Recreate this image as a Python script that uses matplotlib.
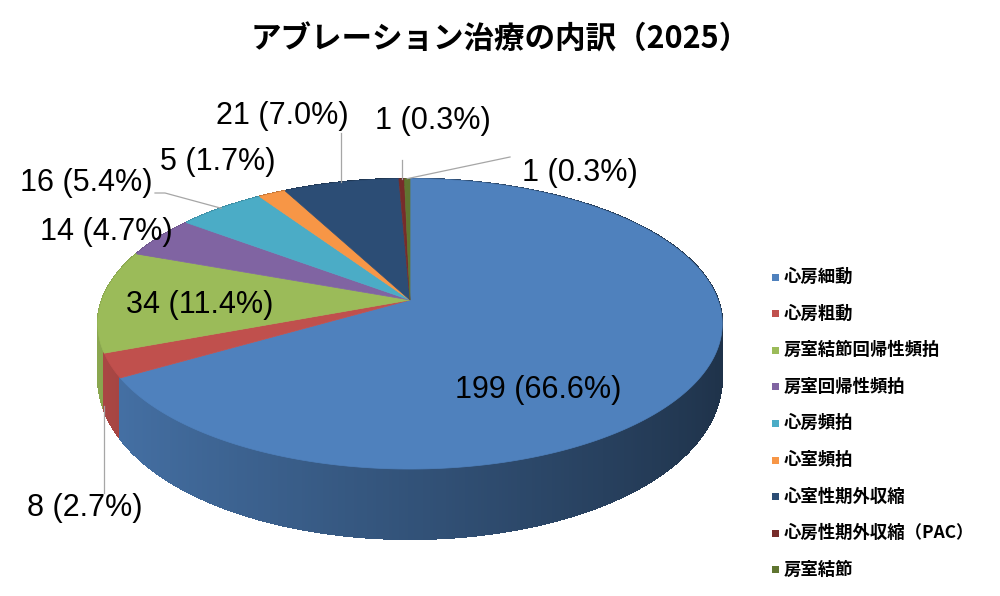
import numpy as np
import matplotlib.pyplot as plt
import matplotlib.colors as mcolors
from matplotlib.patches import Polygon, Rectangle
from matplotlib.collections import PolyCollection

# data
categories = ['心房細動', '心房粗動', '房室結節回帰性頻拍', '房室回帰性頻拍', '心房頻拍',
              '心室頻拍', '心室性期外収縮', '心房性期外収縮（PAC）', '房室結節']
counts = [199, 8, 34, 14, 16, 5, 21, 1, 1]
colors = ['#4F81BD', '#C0504D', '#9BBB59', '#8064A2', '#4BACC6',
          '#F79646', '#2C4D75', '#772C2A', '#5F7530']
title = 'アブレーション治療の内訳（2025）'

# layout (pixel coords, y down)
CX, CY = 410, 300
RX = 308
TILT = np.radians(27.3)
DIST = 5.41
SIDE_A, SIDE_B = 38, 32

label_pos = [(538, 390), (85, 508), (200, 305), (106, 232), (86, 183),
             (218, 162), (282, 116), (433, 121), (580, 173)]
# leader lines: wedge index -> (points on label side, fraction along wedge, use bottom edge)
# x of None means straight down/up from the pie point
leaders = {
    1: ([(None, 493)], 1.0, True),
    4: ([(155, 193), (165, 193)], 0.5, False),
    6: ([(None, 133)], 0.5, False),
    7: ([(None, 160)], 0.5, False),
    8: ([(510, 157)], 0.5, False),
}


def project(theta):
    X = np.cos(theta)
    Z = -np.sin(theta)
    depth = DIST - Z * np.cos(TILT)
    px = CX + RX * DIST * X / depth
    py = CY + RX * DIST * Z * np.sin(TILT) / depth
    return px, py, X, Z


def side_drop(Z):
    # thickness of the side wall on screen, deeper toward the viewer
    return SIDE_A + SIDE_B * np.where(Z > 0, np.sqrt(np.abs(Z)), Z)


def shade(color, X):
    rgb = np.array(mcolors.to_rgb(color))
    f = 0.64 - 0.26 * X
    return tuple(np.clip(rgb * f, 0, 1))


total = sum(counts)
fracs = np.array(counts) / total
cum = np.concatenate([[0], np.cumsum(fracs)])
# excel: start at 12 o'clock, clockwise
starts = np.radians(90 - cum[:-1] * 360)
ends = np.radians(90 - cum[1:] * 360)

fig = plt.figure(figsize=(10, 5.96), dpi=100)
ax = fig.add_axes([0, 0, 1, 1])
ax.set_xlim(0, 1000)
ax.set_ylim(596, 0)
ax.axis('off')

# side walls
quads, qcols, qz = [], [], []
for i in range(len(counts)):
    n = max(2, int(abs(ends[i] - starts[i]) / np.radians(0.5)))
    th = np.linspace(starts[i], ends[i], n + 1)
    px, py, X, Z = project(th)
    by = py + side_drop(Z)
    for k in range(n):
        quads.append([(px[k], py[k]), (px[k+1], py[k+1]), (px[k+1], by[k+1]), (px[k], by[k])])
        xm = (X[k] + X[k+1]) / 2
        qcols.append(shade(colors[i], xm))
        qz.append((Z[k] + Z[k+1]) / 2)
order = np.argsort(qz)
quads = [quads[j] for j in order]
qcols = [qcols[j] for j in order]
ax.add_collection(PolyCollection(quads, facecolors=qcols, edgecolors=qcols,
                                 linewidths=0.8, antialiaseds=False))

# top face
for i in range(len(counts)):
    n = max(2, int(abs(ends[i] - starts[i]) / np.radians(0.5)))
    th = np.linspace(starts[i], ends[i], n + 1)
    px, py, _, _ = project(th)
    pts = [(CX, CY)] + list(zip(px, py))
    ax.add_patch(Polygon(pts, closed=True, facecolor=colors[i], edgecolor=colors[i], linewidth=0.5))

# leader lines
for i, (pts, f, bottom) in leaders.items():
    th = starts[i] + (ends[i] - starts[i]) * f
    px, py, X, Z = project(th)
    if bottom:
        py = py + side_drop(Z) - 4
    xs = [px if p[0] is None else p[0] for p in pts] + [px]
    ys = [p[1] for p in pts] + [py]
    ax.plot(xs, ys, color='#A6A6A6', linewidth=0.9)

# data labels
for i, c in enumerate(counts):
    txt = f'{c} ({fracs[i] * 100:.1f}%)'
    ax.text(label_pos[i][0], label_pos[i][1], txt, ha='center', va='center',
            fontsize=22, family=['Liberation Sans', 'DejaVu Sans'], color='black')

# title
ax.text(500, 40, title, ha='center', va='center', fontsize=22, fontweight='bold',
        family=['Noto Sans CJK JP', 'DejaVu Sans'])

# legend
for i, name in enumerate(categories):
    y = 277 + i * 36.6
    ax.add_patch(Rectangle((772, y - 3.5), 7, 7, facecolor=colors[i], edgecolor='none'))
    ax.text(784, y, name, ha='left', va='center', fontsize=12.5, fontweight='bold',
            family=['Noto Sans CJK JP', 'DejaVu Sans'])

fig.savefig('out.png', dpi=100)
